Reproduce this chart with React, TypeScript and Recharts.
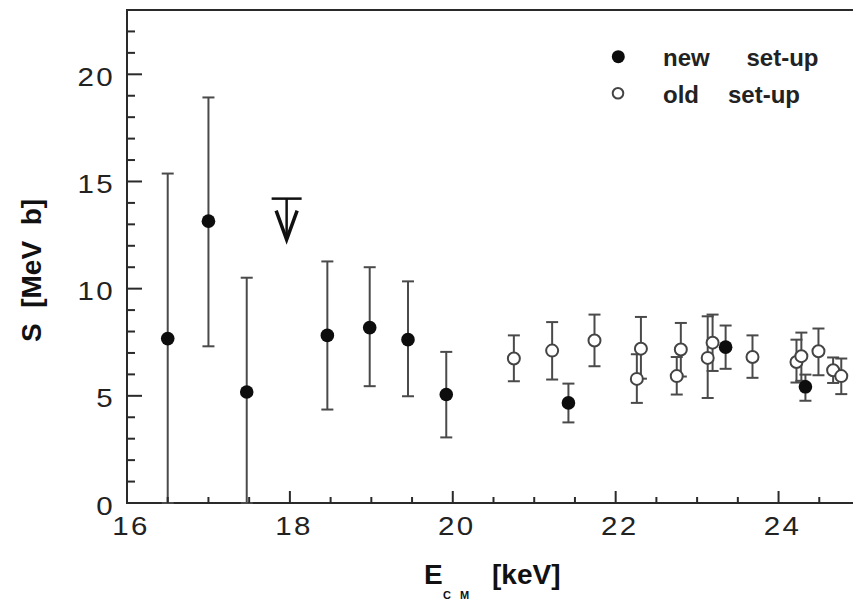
import React from 'react';
import { ScatterChart, Scatter, XAxis, YAxis, ErrorBar, ReferenceArea, Legend } from 'recharts';

// ---- data ----
const energyNew = [16.5, 17.0, 17.47, 18.46, 18.98, 19.45, 19.92, 21.42, 23.35, 24.33];
const sNew = [7.67, 13.15, 5.18, 7.82, 8.18, 7.62, 5.06, 4.67, 7.27, 5.42];
const sNewLow = [0, 7.31, 0, 4.36, 5.45, 4.98, 3.06, 3.76, 6.26, 4.77];
const sNewHigh = [15.37, 18.92, 10.51, 11.27, 11.0, 10.34, 7.05, 5.57, 8.28, 5.99];

const energyOld = [20.75, 21.22, 21.74, 22.26, 22.31, 22.75, 22.8, 23.13, 23.19, 23.68, 24.22, 24.28, 24.49, 24.67, 24.77];
const sOld = [6.74, 7.11, 7.58, 5.79, 7.2, 5.92, 7.16, 6.77, 7.48, 6.81, 6.58, 6.85, 7.08, 6.19, 5.92];
const sOldLow = [5.68, 5.76, 6.38, 4.67, 5.8, 5.06, 5.9, 4.9, 6.16, 5.84, 5.62, 5.7, 5.96, 5.6, 5.08];
const sOldHigh = [7.82, 8.44, 8.79, 6.94, 8.68, 6.81, 8.4, 8.71, 8.79, 7.82, 7.62, 7.95, 8.14, 6.79, 6.74];

const limitEnergy = [17.96];
const limitS = [14.2];

const xTicks = [16, 16.5, 17, 17.5, 18, 18.5, 19, 19.5, 20, 20.5, 21, 21.5, 22, 22.5, 23, 23.5, 24, 24.5, 25];
const xLabelTicks = [16, 18, 20, 22, 24];
const yTicks = [0, 1, 2, 3, 4, 5, 6, 7, 8, 9, 10, 11, 12, 13, 14, 15, 16, 17, 18, 19, 20, 21, 22, 23];
const yLabelTicks = [0, 5, 10, 15, 20];

const X_DOMAIN: [number, number] = [16, 25];
const Y_DOMAIN: [number, number] = [0, 23];

// ---- tables built from the arrays ----
const newData = energyNew.map((x, i) => ({ x, y: sNew[i], err: [sNew[i] - sNewLow[i], sNewHigh[i] - sNew[i]] }));
const oldData = energyOld.map((x, i) => ({ x, y: sOld[i], err: [sOld[i] - sOldLow[i], sOldHigh[i] - sOld[i]] }));
const limitData = limitEnergy.map((x, i) => ({ x, y: limitS[i] }));

const FRAME = '#2a2a2a';
const BAR = '#4a4a4a';
const FONT = '"Liberation Sans", Arial, Helvetica, sans-serif';

const isMajorX = (v: number) => xLabelTicks.includes(v);
const isMajorY = (v: number) => yLabelTicks.includes(v);

const BottomTick = (props: any) => {
  const { x, y, payload } = props;
  const v = payload.value;
  const major = isMajorX(v);
  return (
    <g>
      <line x1={x} x2={x} y1={y} y2={y - (major ? 12 : 6)} stroke={FRAME} strokeWidth={2} />
      {major && (
        <g transform={`translate(${x + 4},${y + 32})`}>
          <text transform="scale(1.18,1)" textAnchor="middle" fontFamily={FONT} fontSize={25} letterSpacing={2} fill="#222">
            {v}
          </text>
        </g>
      )}
    </g>
  );
};

const TopTick = (props: any) => {
  const { x, y, payload } = props;
  const major = isMajorX(payload.value);
  return <line x1={x} x2={x} y1={y} y2={y + (major ? 12 : 6)} stroke={FRAME} strokeWidth={2} />;
};

const LeftTick = (props: any) => {
  const { x, y, payload } = props;
  const v = payload.value;
  const major = isMajorY(v);
  return (
    <g>
      <line x1={x} x2={x + (major ? 15 : 8)} y1={y} y2={y} stroke={FRAME} strokeWidth={2} />
      {major && (
        <g transform={`translate(${x - 12},${y + 11.5})`}>
          <text transform="scale(1.18,1)" textAnchor="end" fontFamily={FONT} fontSize={25} letterSpacing={2} fill="#222">
            {v}
          </text>
        </g>
      )}
    </g>
  );
};

const RightTick = (props: any) => {
  const { x, y, payload } = props;
  const major = isMajorY(payload.value);
  return <line x1={x} x2={x - (major ? 15 : 8)} y1={y} y2={y} stroke={FRAME} strokeWidth={2} />;
};

const FilledDot = (p: any) => <circle cx={p.cx} cy={p.cy} r={6.8} fill="#0d0d0d" />;
const OpenDot = (p: any) => <circle cx={p.cx} cy={p.cy} r={6} fill="#fff" stroke="#444" strokeWidth={2} />;
const LimitShape = (p: any) => {
  const { cx, cy } = p;
  return (
    <g fill="none" stroke="#111">
      <line x1={cx - 15} x2={cx + 15} y1={cy} y2={cy} strokeWidth={2.5} />
      <line x1={cx} x2={cx} y1={cy} y2={cy + 40} strokeWidth={2.5} />
      <polyline points={`${cx - 10.5},${cy + 12} ${cx},${cy + 41} ${cx + 10.5},${cy + 12}`} strokeWidth={3.5} />
    </g>
  );
};

const XTitle = () => (
  <g fontFamily={FONT} fontWeight="bold" fill="#111">
    <text x={424} y={583.5} fontSize={28}>E</text>
    <text x={443} y={598.5} fontSize={11}>C</text>
    <text x={460} y={598.5} fontSize={11}>M</text>
    <text x={492} y={583.5} fontSize={28}>[keV]</text>
  </g>
);

const YTitle = () => (
  <text
    transform="translate(41,270.5) rotate(-90)"
    textAnchor="middle"
    fontFamily={FONT}
    fontWeight="bold"
    fontSize={28}
    fill="#111"
    xmlSpace="preserve"
    style={{ whiteSpace: 'pre' }}
  >
    {'S  [MeV  b]'}
  </text>
);

const LegendBox = () => (
  <svg width={240} height={80} style={{ display: 'block' }}>
    <circle cx={18.3} cy={26.7} r={6.5} fill="#0d0d0d" />
    <circle cx={18} cy={63.3} r={5.3} fill="#fff" stroke="#444" strokeWidth={2} />
    <g fontFamily={FONT} fontWeight="bold" fontSize={24} fill="#222">
      <text x={63} y={36}>new</text>
      <text x={146.5} y={36}>set-up</text>
      <text x={63} y={72.7}>old</text>
      <text x={128} y={72.7}>set-up</text>
    </g>
  </svg>
);

export default function App() {
  return (
    <div style={{ width: 860, height: 601, background: '#fff' }}>
      <style>{`html,body{margin:0;padding:0;overflow:hidden;background:#fff}`}</style>
      <ScatterChart width={860} height={601} margin={{ top: 10, right: 0, bottom: 0, left: 0 }}>
        <XAxis
          xAxisId="b"
          type="number"
          dataKey="x"
          orientation="bottom"
          domain={X_DOMAIN}
          allowDataOverflow
          ticks={xTicks}
          interval={0}
          height={98}
          axisLine={false}
          tickLine={false}
          tickSize={0}
          tickMargin={0}
          tick={<BottomTick />}
          label={{ content: () => <XTitle /> }}
        />
        <XAxis
          xAxisId="t"
          type="number"
          dataKey="x"
          orientation="top"
          domain={X_DOMAIN}
          allowDataOverflow
          ticks={xTicks}
          interval={0}
          height={0}
          axisLine={false}
          tickLine={false}
          tickSize={0}
          tickMargin={0}
          tick={<TopTick />}
        />
        <YAxis
          yAxisId="l"
          type="number"
          dataKey="y"
          orientation="left"
          domain={Y_DOMAIN}
          allowDataOverflow
          ticks={yTicks}
          interval={0}
          width={127}
          axisLine={false}
          tickLine={false}
          tickSize={0}
          tickMargin={0}
          tick={<LeftTick />}
          label={{ content: () => <YTitle /> }}
        />
        <YAxis
          yAxisId="r"
          type="number"
          dataKey="y"
          orientation="right"
          domain={Y_DOMAIN}
          allowDataOverflow
          ticks={yTicks}
          interval={0}
          width={0}
          axisLine={false}
          tickLine={false}
          tickSize={0}
          tickMargin={0}
          tick={<RightTick />}
        />
        <ReferenceArea
          xAxisId="b"
          yAxisId="l"
          x1={X_DOMAIN[0]}
          x2={X_DOMAIN[1]}
          y1={Y_DOMAIN[0]}
          y2={Y_DOMAIN[1]}
          fill="none"
          fillOpacity={0}
          stroke={FRAME}
          strokeWidth={2}
          ifOverflow="visible"
        />
        <Scatter name="old set-up" data={oldData} xAxisId="b" yAxisId="l" shape={<OpenDot />} isAnimationActive={false}>
          <ErrorBar dataKey="err" direction="y" width={6} stroke={BAR} strokeWidth={2} isAnimationActive={false} />
        </Scatter>
        <Scatter name="new set-up" data={newData} xAxisId="b" yAxisId="l" shape={<FilledDot />} isAnimationActive={false}>
          <ErrorBar dataKey="err" direction="y" width={6} stroke={BAR} strokeWidth={2} isAnimationActive={false} />
        </Scatter>
        <Scatter name="upper limit" data={limitData} xAxisId="b" yAxisId="l" shape={<LimitShape />} isAnimationActive={false} legendType="none" />
        <Legend
          layout="horizontal"
          verticalAlign="middle"
          align="center"
          wrapperStyle={{ position: 'absolute', left: 600, top: 30, width: 240, height: 80 }}
          content={() => <LegendBox />}
        />
      </ScatterChart>
    </div>
  );
}
